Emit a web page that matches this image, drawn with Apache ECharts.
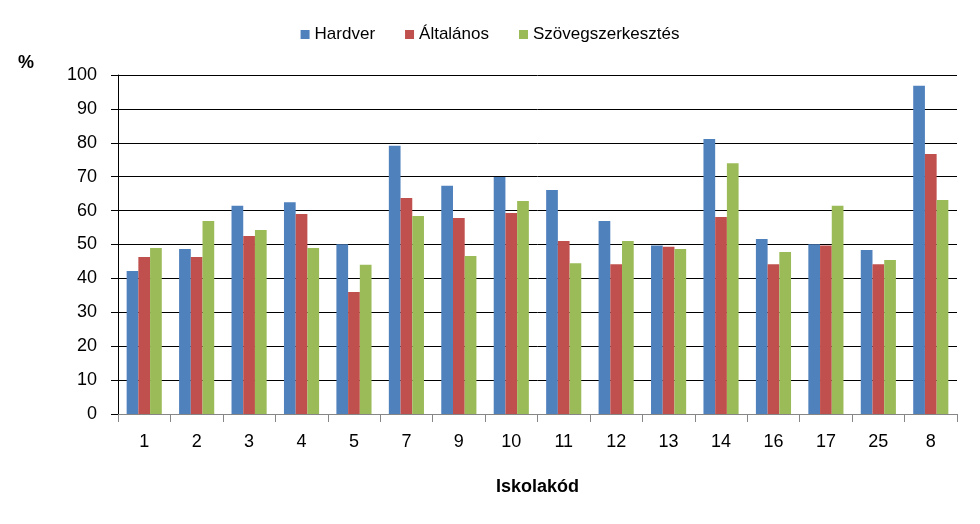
<!DOCTYPE html>
<html>
<head>
<meta charset="utf-8">
<script src="https://cdn.jsdelivr.net/npm/echarts@6/dist/echarts.min.js"></script>
<style>html,body{margin:0;padding:0;background:#fff}#c{width:980px;height:524px}</style>
</head>
<body>
<div id="c"></div>
<script>
const categories = ['1','2','3','4','5','7','9','10','11','12','13','14','16','17','25','8'];
const hardver = [42.2,48.7,61.4,62.5,50.1,79.1,67.3,69.9,66.1,56.9,49.7,81.1,51.6,50.1,48.4,96.8];
const altalanos = [46.3,46.3,52.5,59.0,36.0,63.7,57.8,59.3,51.0,44.2,49.3,58.1,44.2,49.7,44.2,76.7];
const szoveg = [49.0,56.9,54.3,49.0,44.0,58.4,46.6,62.8,44.5,51.0,48.7,74.0,47.8,61.4,45.4,63.1];
const seriesNames = ['Hardver','Általános','Szövegszerkesztés'];
const colors = ['#4F81BD','#C0504D','#9BBB59'];
const font = 'Liberation Sans';

const chart = echarts.init(document.getElementById('c'));
const dataSets = [hardver, altalanos, szoveg];
chart.setOption({
  animation: false,
  color: colors,
  textStyle: {fontFamily: font},
  legend: {
    top: 21, left: 'center',
    itemWidth: 9, itemHeight: 9, itemGap: 30,
    icon: 'rect',
    textStyle: {fontSize: 17, color: '#000', fontFamily: font},
    data: seriesNames
  },
  grid: {left: 118, right: 23, top: 75, bottom: 110},
  graphic: [{type: 'text', left: 18, top: 54, style: {text: '%', font: 'bold 18px "Liberation Sans"', fill: '#000'}}],
  xAxis: {
    type: 'category', data: categories,
    axisLine: {lineStyle: {color: '#868686', width: 1}},
    axisTick: {show: true, length: 8, lineStyle: {color: '#868686'}},
    axisLabel: {fontSize: 18, color: '#000', margin: 19},
    name: 'Iskolakód', nameLocation: 'middle', nameGap: 64,
    nameTextStyle: {fontSize: 18, fontWeight: 'bold', color: '#000'}
  },
  yAxis: {
    type: 'value', min: 0, max: 100, interval: 10,
    axisLine: {show: true, lineStyle: {color: '#000', width: 1}},
    axisTick: {show: true, length: 7, lineStyle: {color: '#000'}},
    axisLabel: {fontSize: 18, color: '#000', margin: 21},
    splitLine: {lineStyle: {color: '#000', width: 1}}
  },
  series: seriesNames.map((n, i) => ({
    name: n, type: 'bar', data: dataSets[i],
    barGap: '0%', barCategoryGap: '33%'
  }))
});
</script>
</body>
</html>
